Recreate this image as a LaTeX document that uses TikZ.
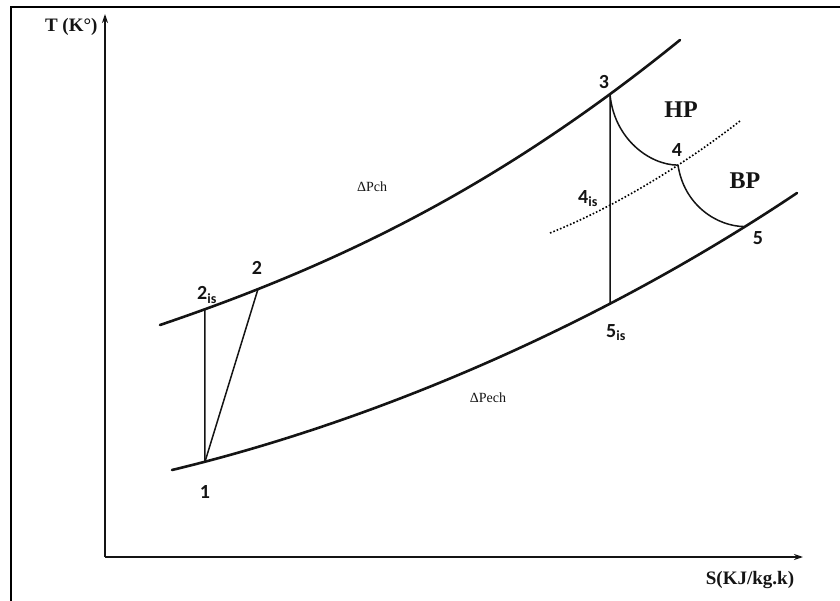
\documentclass[tikz,border=0pt]{standalone}
\usepackage{fontspec}
\setmainfont{Liberation Serif}
\newfontfamily\statefont{Carlito}
\usetikzlibrary{positioning, arrows.meta, calc, intersections}
\definecolor{inkblack}{RGB}{20,20,20}

\begin{document}
\begin{tikzpicture}[
    x=1pt, y=-1pt,
    >={Stealth[length=9pt,width=6pt]},
    every node/.style={font=\bfseries\fontsize{19}{21}\selectfont, text=inkblack},
    isobar/.style={line width=2.6pt, line cap=round, inkblack},
    axisline/.style={line width=1.6pt, inkblack},
    thinline/.style={line width=1.5pt, inkblack},
    statelbl/.style={font=\statefont\bfseries\fontsize{20}{22}\selectfont},
    stagelbl/.style={font=\bfseries\fontsize{24}{26}\selectfont},
    droplbl/.style={font=\fontsize{14}{16}\selectfont}
  ]
  \useasboundingbox (0,0) rectangle (840,601);

  % ============================================================
  %  Frame and axes
  % ============================================================
  \draw[line width=1.8pt] (11,601) -- (11,7) -- (840,7);

  \coordinate (O) at (105,557);
  \coordinate (Ttip) at (105,14);
  \coordinate (Stip) at (803,557);
  \draw[axisline, ->] (O) -- (Ttip);
  \draw[axisline, ->] (O) -- (Stip);

  \node[anchor=east] (Tlbl) at (101,27) {T (K°)};
  \node (Slbl) at (750,580) {S(KJ/kg.k)};

  % ============================================================
  %  Isobars
  % ============================================================
  \draw[isobar, name path=upper]
    (160,325) .. controls (340,264) and (500,186) .. (680,40);
  \draw[isobar, name path=lower]
    (172,470) .. controls (372,422) and (597,327) .. (797,193);
  \draw[dotted, line width=1.6pt, name path=middle]
    (550,233) .. controls (620,205) and (690,160) .. (740,121);

  % --- state points from vertical cuts ---
  \path[name path=cutA] (205,0) -- (205,601);
  \path[name path=cutB] (258,0) -- (258,601);
  \path[name path=cutC] (610,0) -- (610,601);
  \path[name path=cutD] (678,0) -- (678,601);
  \path[name path=cutE] (745,0) -- (745,601);

  \path[name intersections={of=upper and cutA, by=p2is}];
  \path[name intersections={of=lower and cutA, by=p1}];
  \path[name intersections={of=upper and cutB, by=p2}];
  \path[name intersections={of=upper and cutC, by=p3}];
  \path[name intersections={of=lower and cutC, by=p5is}];
  \path[name intersections={of=middle and cutC, by=p4is}];
  \path[name intersections={of=middle and cutD, by=p4}];
  \path[name intersections={of=lower and cutE, by=p5}];

  % ============================================================
  %  Compression and expansion
  % ============================================================
  \draw[thinline] (p1) -- (p2is);
  \draw[thinline] (p1) -- (p2);
  \draw[thinline] (p3) -- (p5is);
  \draw[thinline] (p3) .. controls +(4,45) and +(-28,0) .. (p4);
  \draw[thinline] (p4) .. controls +(6,40) and +(-28,0) .. (p5);

  % ============================================================
  %  Labels
  % ============================================================
  \node[statelbl] (l1) at (205,492) {1};
  \node[statelbl] (l2is) at (207,295) {2\textsubscript{is}};
  \node[statelbl] (l2) at (257,268) {2};
  \node[statelbl] (l3) at (604,82) {3};
  \node[statelbl] (l4) at (677,150) {4};
  \node[statelbl] (l4is) at (588,199) {4\textsubscript{is}};
  \node[statelbl] (l5) at (758,238) {5};
  \node[statelbl] (l5is) at (616,333) {5\textsubscript{is}};
  \node[stagelbl] (hp) at (681,110) {HP};
  \node[stagelbl] (bp) at (745,181) {BP};
  \node[droplbl] (dpch) at (372,187) {ΔPch};
  \node[droplbl] (dpech) at (488,398) {ΔPech};

\end{tikzpicture}
\end{document}
